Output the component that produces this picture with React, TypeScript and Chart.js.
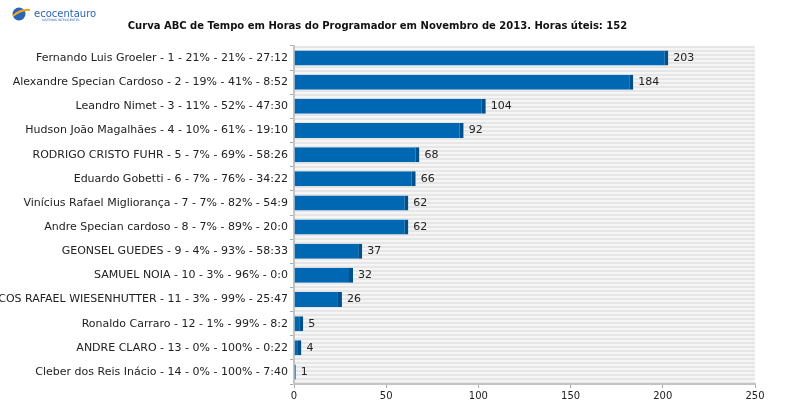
import React, { useEffect, useRef } from "react";
import Chart from "chart.js/auto";

const names = [
  "Fernando Luis Groeler - 1 - 21% - 21% - 27:12",
  "Alexandre Specian Cardoso - 2 - 19% - 41% - 8:52",
  "Leandro Nimet - 3 - 11% - 52% - 47:30",
  "Hudson João Magalhães - 4 - 10% - 61% - 19:10",
  "RODRIGO CRISTO FUHR - 5 - 7% - 69% - 58:26",
  "Eduardo Gobetti - 6 - 7% - 76% - 34:22",
  "Vinícius Rafael Migliorança - 7 - 7% - 82% - 54:9",
  "Andre Specian cardoso - 8 - 7% - 89% - 20:0",
  "GEONSEL GUEDES - 9 - 4% - 93% - 58:33",
  "SAMUEL NOIA - 10 - 3% - 96% - 0:0",
  "MARCOS RAFAEL WIESENHUTTER - 11 - 3% - 99% - 25:47",
  "Ronaldo Carraro - 12 - 1% - 99% - 8:2",
  "ANDRE CLARO - 13 - 0% - 100% - 0:22",
  "Cleber dos Reis Inácio - 14 - 0% - 100% - 7:40",
];
const hours = [203, 184, 104, 92, 68, 66, 62, 62, 37, 32, 26, 5, 4, 1];
const xTicks = [0, 50, 100, 150, 200, 250];

const TITLE =
  "Curva ABC de Tempo em Horas do Programador em Novembro de 2013. Horas úteis: 152";
const FONT = "'DejaVu Sans', sans-serif";

const stripes = {
  id: "stripes",
  beforeDraw(chart: any) {
    const { ctx, chartArea: a } = chart;
    ctx.save();
    ctx.fillStyle = "#f5f5f5";
    ctx.fillRect(a.left, a.top, a.right - a.left, a.bottom - a.top);
    ctx.fillStyle = "#e6e6e6";
    for (let y = a.top; y < a.bottom; y += 4) {
      ctx.fillRect(a.left, y, a.right - a.left, 2);
    }
    ctx.restore();
  },
};

const valueLabels = {
  id: "valueLabels",
  afterDatasetsDraw(chart: any) {
    const { ctx } = chart;
    const meta = chart.getDatasetMeta(0);
    ctx.save();
    ctx.font = `11px ${FONT}`;
    ctx.fillStyle = "#222";
    ctx.textBaseline = "middle";
    meta.data.forEach((bar: any, i: number) => {
      ctx.fillText(String(hours[i]), bar.x + 5, bar.y);
    });
    ctx.restore();
  },
};

const logo = {
  id: "logo",
  afterDraw(chart: any) {
    const { ctx } = chart;
    ctx.save();
    ctx.fillStyle = "#2a64b4";
    ctx.beginPath();
    ctx.arc(19, 14, 6.5, 0, Math.PI * 2);
    ctx.fill();
    ctx.strokeStyle = "#f5a623";
    ctx.lineWidth = 2;
    ctx.beginPath();
    ctx.moveTo(13, 16);
    ctx.quadraticCurveTo(21, 9, 30, 10);
    ctx.stroke();
    ctx.fillStyle = "#2a64b4";
    ctx.font = `10px ${FONT}`;
    ctx.textBaseline = "alphabetic";
    ctx.fillText("ecocentauro", 34, 17);
    ctx.font = `3px ${FONT}`;
    ctx.fillText("SISTEMAS INTELIGENTES", 42, 21);
    ctx.restore();
  },
};

export default function App() {
  const canvasRef = useRef<HTMLCanvasElement>(null);
  const chartRef = useRef<Chart | null>(null);

  useEffect(() => {
    if (!canvasRef.current) return;
    if (chartRef.current) chartRef.current.destroy();

    chartRef.current = new Chart(canvasRef.current, {
      type: "bar",
      data: {
        labels: names,
        datasets: [
          {
            data: hours,
            backgroundColor: "#0068b2",
            borderColor: "#00508c",
            borderWidth: { left: 0, top: 0, bottom: 0, right: 4 },
            borderSkipped: false,
            barPercentage: 0.62,
            categoryPercentage: 1,
          },
        ],
      },
      options: {
        indexAxis: "y",
        animation: false,
        responsive: false,
        maintainAspectRatio: false,
        layout: { padding: { left: 0, right: 45, top: 0, bottom: 0 } },
        plugins: {
          legend: { display: false },
          tooltip: { enabled: false },
          title: {
            display: true,
            text: TITLE,
            color: "#111",
            font: { family: FONT, size: 10, weight: "bold" },
            padding: { top: 20, bottom: 14 },
          },
        },
        scales: {
          x: {
            min: 0,
            max: 250,
            afterBuildTicks: (scale: any) => {
              scale.ticks = xTicks.map((v) => ({ value: v }));
            },
            afterFit: (scale: any) => {
              scale.height = 36;
            },
            grid: {
              drawOnChartArea: false,
              tickLength: 4,
              color: "#aaa",
            },
            border: { display: true, color: "#c4c4c4", width: 2 },
            ticks: {
              color: "#222",
              padding: 2,
              font: { family: FONT, size: 10 },
            },
          },
          y: {
            afterFit: (scale: any) => {
              scale.width = 294;
            },
            grid: {
              offset: true,
              drawOnChartArea: false,
              tickLength: 4,
              color: "#aaa",
            },
            border: { display: true, color: "#c4c4c4", width: 2 },
            ticks: {
              color: "#222",
              padding: 2,
              font: { family: FONT, size: 11 },
            },
          },
        },
      },
      plugins: [stripes, valueLabels, logo],
    });

    return () => {
      if (chartRef.current) {
        chartRef.current.destroy();
        chartRef.current = null;
      }
    };
  }, []);

  return (
    <div style={{ position: "absolute", left: 0, top: 0, width: 800, height: 420, background: "#fff" }}>
      <canvas ref={canvasRef} width={800} height={420}></canvas>
    </div>
  );
}
